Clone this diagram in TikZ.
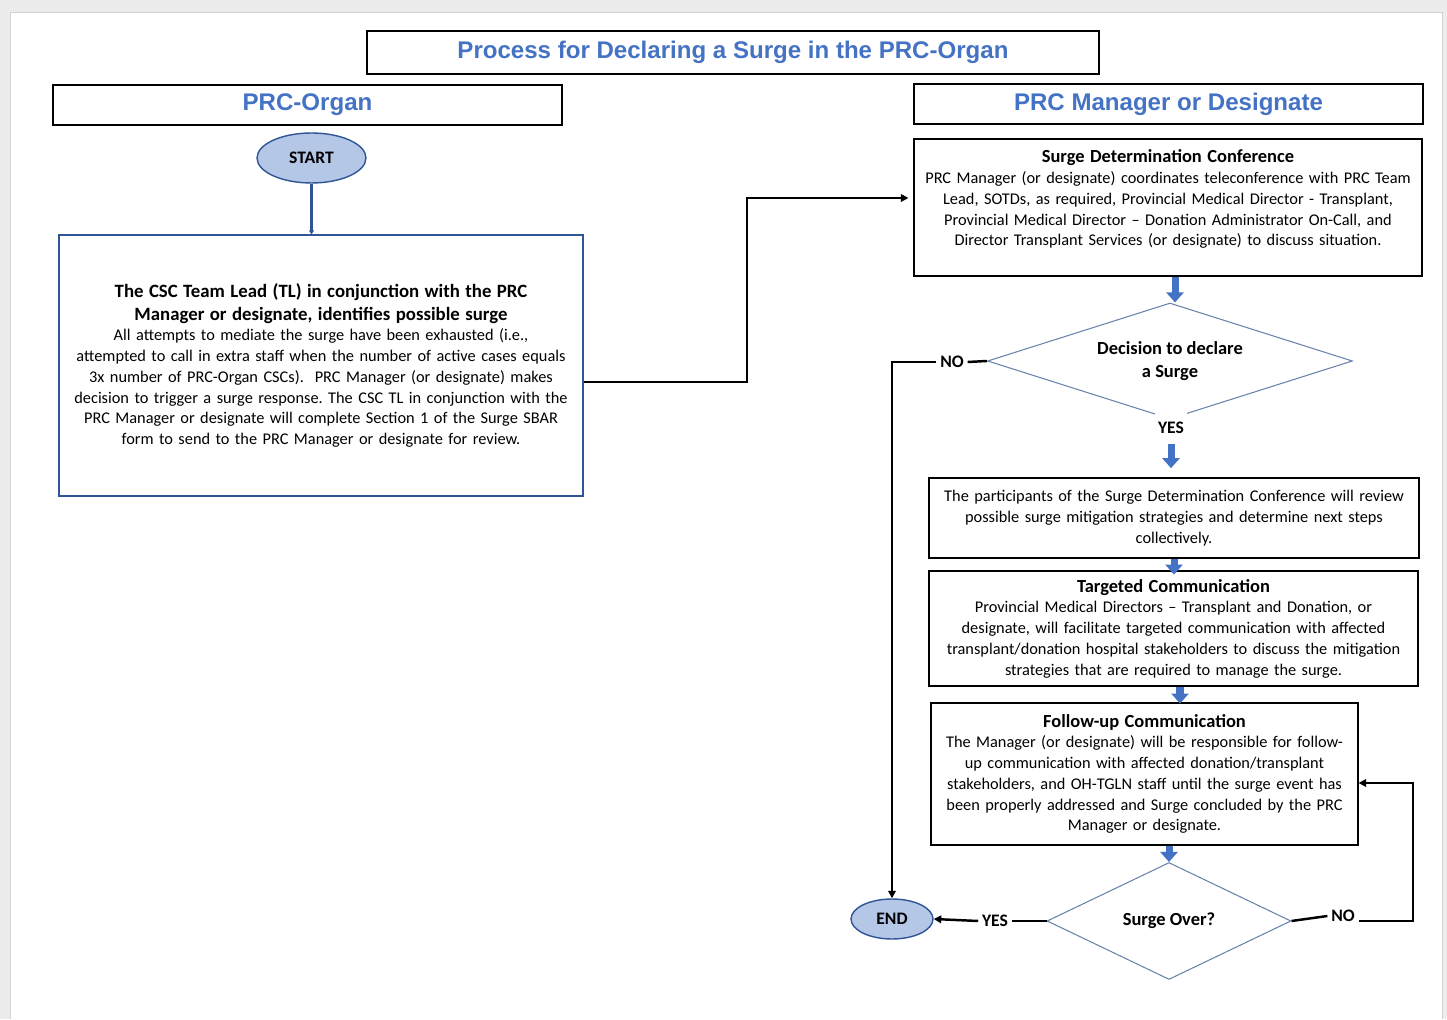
\documentclass[tikz,border=0pt]{standalone}
\usepackage{fontspec}
\setmainfont{Carlito}
\newfontfamily\headfont{Liberation Sans}
\usetikzlibrary{arrows.meta,shapes.geometric}
\definecolor{headblue}{HTML}{4472C4}
\definecolor{ovalfill}{HTML}{B4C7E7}
\definecolor{ovalline}{HTML}{2F5597}
\definecolor{choiceline}{HTML}{6A83AC}
\frenchspacing
\begin{document}
\begin{tikzpicture}[x=0.02cm, y=-0.02cm,
  lane/.style={draw, line width=0.7pt, minimum width=10.18cm, minimum height=0.8cm, text=headblue, font=\headfont\bfseries\fontsize{13.7}{16}\selectfont},
  box/.style={draw, line width=0.7pt, align=center, font=\fontsize{9.3}{11.8}\selectfont},
  oval/.style={ellipse, draw=ovalline, line width=0.8pt, fill=ovalfill, inner sep=0pt, font=\bfseries\fontsize{10}{12}\selectfont},
  choice/.style={diamond, draw=choiceline, line width=0.6pt, inner sep=0pt, align=center, font=\bfseries\fontsize{10.5}{13}\selectfont},
  tag/.style={font=\bfseries\fontsize{10}{12}\selectfont, inner sep=2pt},
  flow/.style={line width=1.4pt, -{Triangle[length=0.15cm,width=0.15cm]}},
  bluearrow/.style={line width=4pt, draw=headblue, -{Triangle[length=0.2cm,width=0.34cm]}}]
\fill[gray!15] (0,0) rectangle (1447,1019);
\fill[white] (10,12) rectangle (1442,1019);
\draw[gray!35] (10,1019) -- (10,12) -- (1442,12) -- (1442,1019);

\node[lane, minimum width=14.64cm, minimum height=0.86cm] (title) at (733,52.5) {Process for Declaring a Surge in the PRC-Organ};
\node[lane] (organ) at (307.5,105) {PRC-Organ};
\node[lane] (manager) at (1168.5,104) {PRC Manager or Designate};

\node[oval, minimum width=2.18cm, minimum height=1cm] (start) at (311.5,158) {START};
\node[box, draw=ovalline, text width=10.2cm, minimum width=10.48cm, minimum height=5.22cm] (lead) at (321,365.5) {{\bfseries\fontsize{10.7}{12.8}\selectfont The CSC Team Lead (TL) in conjunction with the PRC\\Manager or designate, identifies possible surge\par}All attempts to mediate the surge have been exhausted (i.e.,\\attempted to call in extra staff when the number of active cases equals\\3x number of PRC-Organ CSCs).\ \ PRC Manager (or designate) makes\\decision to trigger a surge response. The CSC TL in conjunction with the\\PRC Manager or designate will complete Section 1 of the Surge SBAR\\form to send to the PRC Manager or designate for review.};

\node[box, minimum width=10.16cm, minimum height=2.74cm] (sdc) at (1168,207.5) {};
\node[box, draw=none, text width=9.9cm, anchor=north] (sdctext) at ([yshift=-0.1cm]sdc.north) {{\bfseries\fontsize{10.5}{12.5}\selectfont Surge Determination Conference\par}PRC Manager (or designate) coordinates teleconference with PRC Team\\Lead, SOTDs, as required, Provincial Medical Director - Transplant,\\Provincial Medical Director -- Donation Administrator On-Call, and\\Director Transplant Services (or designate) to discuss situation.};

\node[choice, aspect=3.2, minimum width=7.3cm, minimum height=2.32cm] (decide) at (1170,361) {Decision to declare\\a Surge};
\node[tag, fill=white, inner ysep=0.2cm] (yes1) at (1171,428) {YES};
\node[tag] (no1) at (952,362) {NO};

\node[box, text width=9.55cm, minimum width=9.8cm, minimum height=1.6cm] (review) at (1174,518) {The participants of the Surge Determination Conference will review\\possible surge mitigation strategies and determine next steps\\collectively.};
\node[box, text width=9.5cm, minimum width=9.78cm, minimum height=2.3cm] (target) at (1173.5,628.5) {{\bfseries\fontsize{10.5}{12.5}\selectfont Targeted Communication\par}Provincial Medical Directors -- Transplant and Donation, or\\designate, will facilitate targeted communication with affected\\transplant/donation hospital stakeholders to discuss the mitigation\\strategies that are required to manage the surge.};
\node[box, text width=8.28cm, minimum width=8.54cm, minimum height=2.84cm] (follow) at (1144.5,774) {{\bfseries\fontsize{10.5}{12.5}\selectfont Follow-up Communication\par}The Manager (or designate) will be responsible for follow-\\up communication with affected donation/transplant\\stakeholders, and OH-TGLN staff until the surge event has\\been properly addressed and Surge concluded by the PRC\\Manager or designate.};

\node[choice, aspect=2.1, minimum width=4.88cm, minimum height=2.34cm] (over) at (1169,921) {Surge Over?};
\node[tag] (yes2) at (995,921) {YES};
\node[tag] (no2) at (1343,916) {NO};
\node[oval, minimum width=1.64cm, minimum height=0.8cm] (stop) at (892,919) {END};

\draw[ovalline, line width=1.5pt, -{Triangle[length=0.08cm,width=0.1cm]}] (start.south) -- (start.south |- lead.north);
\draw[flow, shorten >=0.1cm] ([yshift=-0.33cm]lead.east) -| (747,290) |- ([yshift=0.19cm]sdc.west);
\draw[bluearrow] (sdc.south -| 1175,0) -- (decide.north -| 1175,0);
\draw[line width=1.4pt] (decide.west) -- (no1.east);
\draw[flow] (no1.west) -| (stop.north);
\draw[bluearrow] (yes1.south) -- ++(0,24);
\draw[bluearrow] (review.south) -- ++(0,16);
\draw[bluearrow] ([xshift=0.13cm]target.south) -- ++(0,17);
\draw[bluearrow] (over.north |- follow.south) -- (over.north);
\draw[line width=1.4pt] (over.west) -- (yes2.east);
\draw[flow] (yes2.west) -- (stop.east);
\draw[line width=1.4pt] (over.east) -- (no2.west);
\draw[flow] (no2.east |- over.east) -| (1413,850) |- ([yshift=-0.18cm]follow.east);
\end{tikzpicture}
\end{document}
